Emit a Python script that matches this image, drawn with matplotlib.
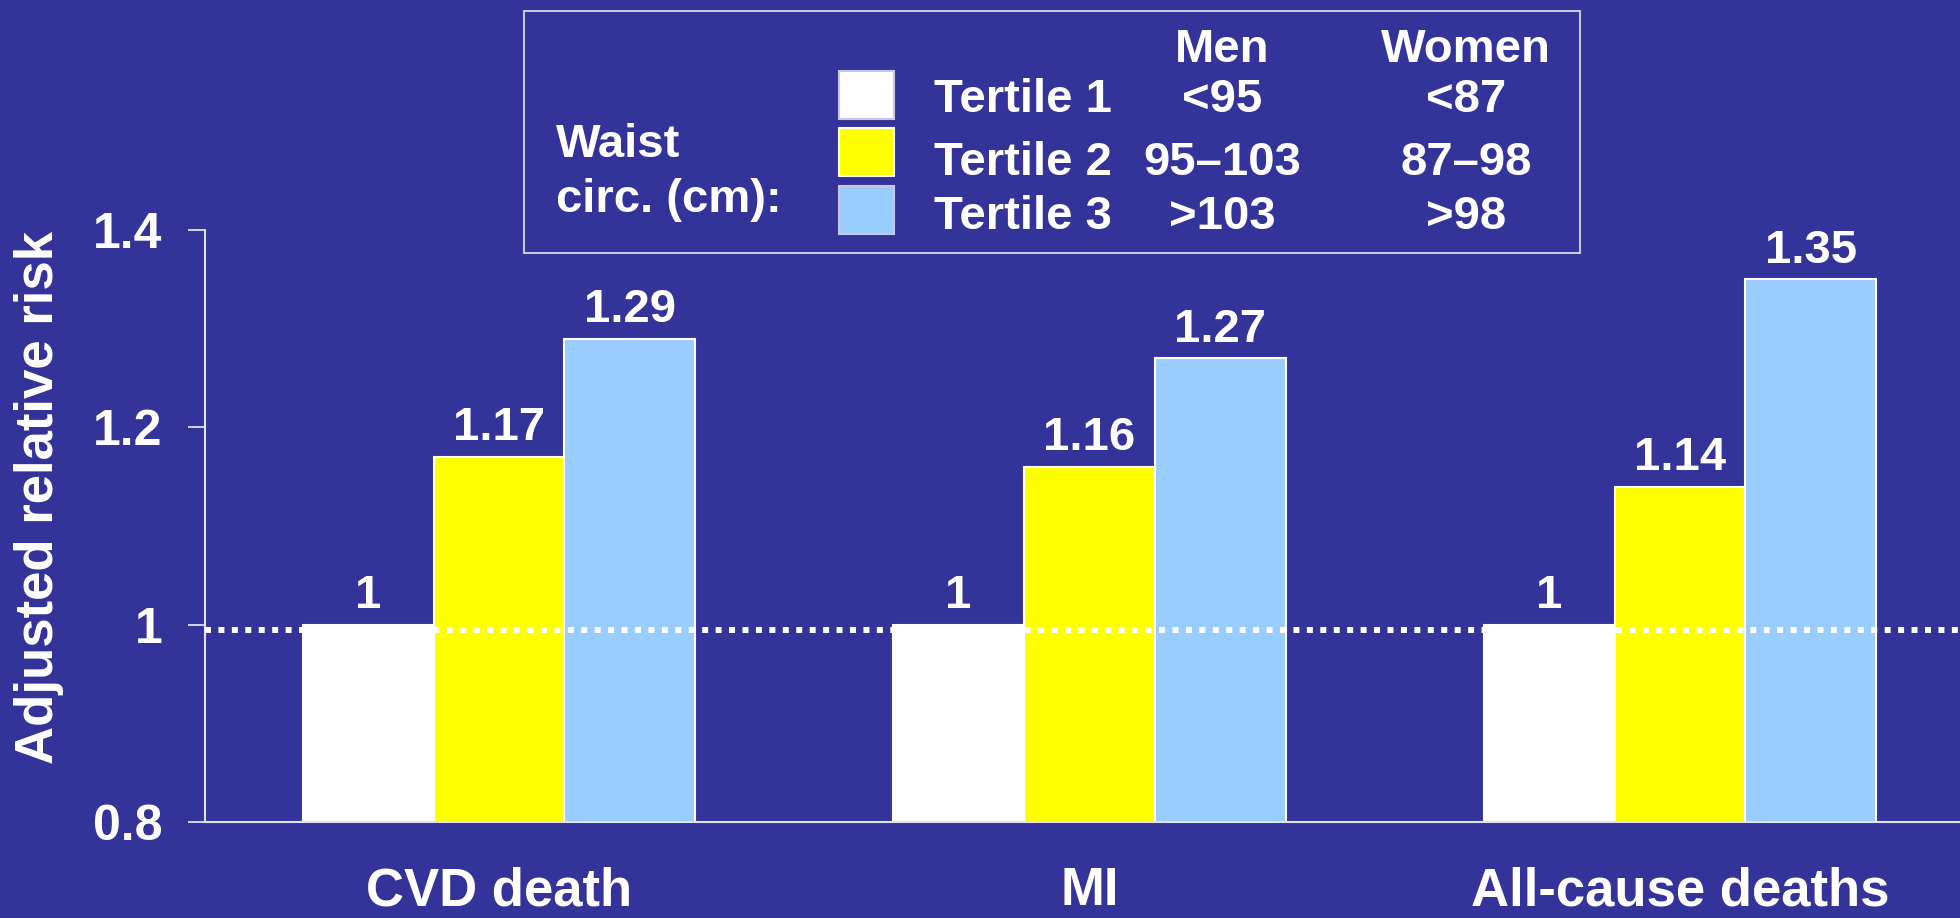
import matplotlib
matplotlib.use('Agg')
import matplotlib.pyplot as plt
from matplotlib.patches import Rectangle

# data
categories = ['CVD death', 'MI', 'All-cause deaths']
tertile1 = [1.00, 1.00, 1.00]
tertile2 = [1.17, 1.16, 1.14]
tertile3 = [1.29, 1.27, 1.35]
series_names = ['Tertile 1', 'Tertile 2', 'Tertile 3']
men_ranges = ['<95', '95\u2013103', '>103']
women_ranges = ['<87', '87\u201398', '>98']
colors = ['#FFFFFF', '#FFFF00', '#99CCFF']
yticks = [0.8, 1.0, 1.2, 1.4]
ytick_labels = ['0.8', '1', '1.2', '1.4']

bg = '#333399'
fg = 'white'
line_c = '#e0e0f0'
plt.rcParams['font.family'] = ['Liberation Sans', 'DejaVu Sans']
plt.rcParams['font.weight'] = 'bold'

W, H = 1960, 918
fig = plt.figure(figsize=(W / 100, H / 100), dpi=100, facecolor=bg)
ax = fig.add_axes([205 / W, 1 - 822 / H, 1 - 205 / W, (822 - 230) / H])
ax.set_facecolor(bg)

x = list(range(len(categories)))
bw = 0.2218
for k, vals in enumerate([tertile1, tertile2, tertile3]):
    xs = [i + (k - 1) * bw for i in x]
    bars = ax.bar(xs, vals, width=bw, color=colors[k], edgecolor=fg, linewidth=1.5, zorder=2)
    for b, v in zip(bars, vals):
        ax.annotate(f'{v:g}', (b.get_x() + b.get_width() / 2, v), xytext=(0, 12),
                    textcoords='offset points', ha='center', va='baseline',
                    color=fg, fontsize=34, fontweight='bold')

# reference line at 1
ax.axhline(0.995, color=fg, linewidth=4.3, linestyle=(0, (1, 1.25)),
           dash_capstyle='butt', zorder=3)

ax.set_xlim(-0.4979, 2.4742)
ax.set_ylim(0.8, 1.4)
ax.set_yticks(yticks)
ax.set_yticklabels(ytick_labels)
ax.set_xticks(x)
ax.set_xticklabels(categories)
ax.tick_params(axis='y', colors=line_c, labelcolor=fg, labelsize=36, length=12.5,
               width=1.3, pad=18)
ax.tick_params(axis='x', length=0, labelcolor=fg, labelsize=38, pad=32)
for lab in ax.get_xticklabels() + ax.get_yticklabels():
    lab.set_fontweight('bold')
for s in ['top', 'right']:
    ax.spines[s].set_visible(False)
for s in ['left', 'bottom']:
    ax.spines[s].set_color(line_c)
    ax.spines[s].set_linewidth(1.5)

fig.text(14 / W, 1 - 498 / H, 'Adjusted relative risk', rotation=90, ha='left',
         va='center', color=fg, fontsize=38, fontweight='bold')

# legend panel, drawn in pixel coordinates
lg = fig.add_axes([0, 0, 1, 1], zorder=5)
lg.set_xlim(0, W)
lg.set_ylim(H, 0)
lg.axis('off')
lg.patch.set_visible(False)
lg.add_patch(Rectangle((524, 11), 1056, 242, facecolor=bg, edgecolor='#c8c8e4', linewidth=1.5))
tk = dict(color=fg, fontsize=34, fontweight='bold', va='baseline')
men_x, women_x = 1222, 1466
lg.text(556, 157, 'Waist', ha='left', **tk)
lg.text(556, 212, 'circ. (cm):', ha='left', **tk)
lg.text(men_x, 62, 'Men', ha='center', **tk)
lg.text(women_x, 62, 'Women', ha='center', **tk)
sw_top = [71, 128, 186]
row_base = [112, 175, 229]
for k in range(3):
    ec = fg if k == 1 else '#c8c8e4'
    lg.add_patch(Rectangle((839, sw_top[k]), 55, 48, facecolor=colors[k], edgecolor=ec, linewidth=1.5))
    lg.text(934, row_base[k], series_names[k], ha='left', **tk)
    lg.text(men_x, row_base[k], men_ranges[k], ha='center', **tk)
    lg.text(women_x, row_base[k], women_ranges[k], ha='center', **tk)

fig.savefig('out.png', dpi=100, facecolor=bg)
